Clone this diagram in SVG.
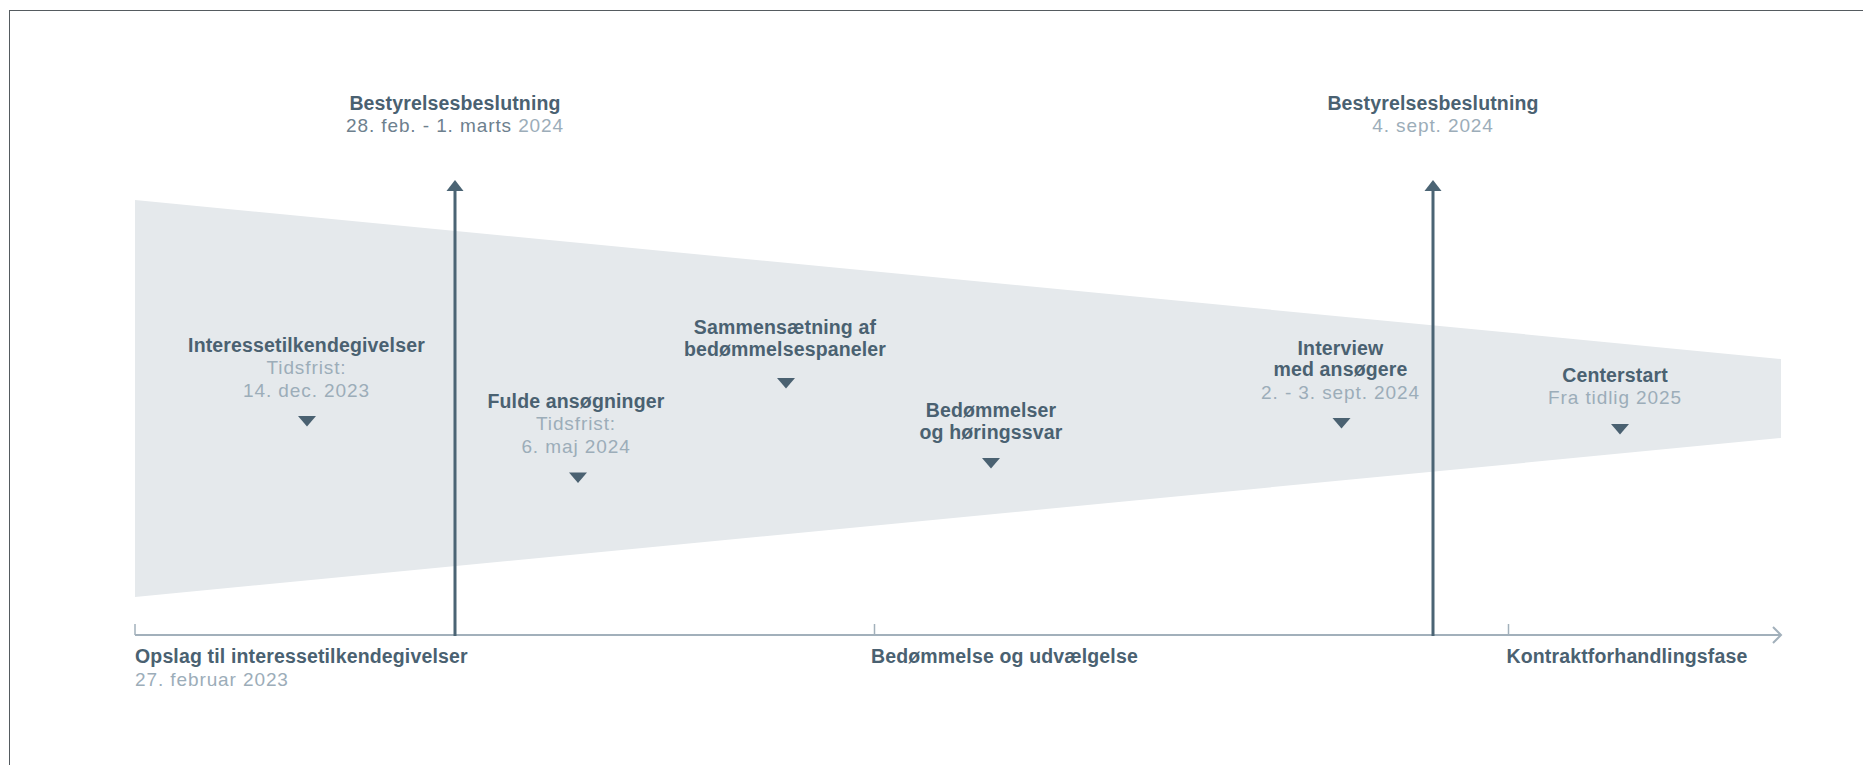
<svg xmlns="http://www.w3.org/2000/svg" width="1863" height="765" viewBox="0 0 1863 765">
<style>
  .b{font-family:"Liberation Sans",Arial,sans-serif;font-weight:bold;font-size:19.5px;letter-spacing:0.15px;fill:#4a6171;text-anchor:middle}
  .l{font-family:"Liberation Sans",Arial,sans-serif;font-size:19px;letter-spacing:0.9px;fill:#9cadb9;text-anchor:middle}
  .m{fill:#6d808e}
  .s{text-anchor:start}
  .tri{fill:#4a6171}
  .vl{stroke:#4b6474;stroke-width:3;fill:none}
  .ah{fill:#4b6474}
  .ax{stroke:#a2b0bb;stroke-width:2;fill:none}
  .tk{stroke:#a2b0bb;stroke-width:1.5;fill:none}
</style>
<rect width="1863" height="765" fill="#ffffff"/>
<rect x="9.5" y="10.5" width="1900" height="800" fill="none" stroke="#555b60" stroke-width="1"/>
<polygon id="funnel" points="135,200 1781,359 1781,438 135,597" fill="#e5e9ec"/>
<g id="connectors">
  <line class="ax" x1="135" y1="635" x2="1780" y2="635"/>
  <polyline class="ax" points="1773,627 1781,635 1773,643" stroke-width="1.5"/>
  <line class="tk" x1="135" y1="624" x2="135" y2="635"/>
  <line class="tk" x1="874.5" y1="624" x2="874.5" y2="635"/>
  <line class="tk" x1="1508.5" y1="624" x2="1508.5" y2="635"/>
  <line class="vl" x1="455" y1="189" x2="455" y2="636"/>
  <polygon class="ah" points="455,180 446.5,191 463.5,191"/>
  <line class="vl" x1="1433" y1="189" x2="1433" y2="636"/>
  <polygon class="ah" points="1433,180 1424.5,191 1441.5,191"/>
</g>
<g id="board1">
  <text class="b" x="455" y="110">Bestyrelsesbeslutning</text>
  <text class="l" x="455" y="132"><tspan class="m">28. feb. - 1. marts</tspan> 2024</text>
</g>
<g id="board2">
  <text class="b" x="1433" y="110">Bestyrelsesbeslutning</text>
  <text class="l" x="1433" y="132">4. sept. 2024</text>
</g>
<g id="interesse">
  <text class="b" x="306.5" y="352">Interessetilkendegivelser</text>
  <text class="l" x="306.5" y="374">Tidsfrist:</text>
  <text class="l" x="306.5" y="396.5">14. dec. 2023</text>
  <polygon class="tri" points="298,416 316,416 307,426.5"/>
</g>
<g id="fulde">
  <text class="b" x="576" y="408">Fulde ansøgninger</text>
  <text class="l" x="576" y="430">Tidsfrist:</text>
  <text class="l" x="576" y="453">6. maj 2024</text>
  <polygon class="tri" points="569,472.5 587,472.5 578,483"/>
</g>
<g id="sammensaetning">
  <text class="b" x="785" y="334">Sammensætning af</text>
  <text class="b" x="785" y="356">bedømmelsespaneler</text>
  <polygon class="tri" points="777,378 795,378 786,388.5"/>
</g>
<g id="bedommelser">
  <text class="b" x="991" y="417">Bedømmelser</text>
  <text class="b" x="991" y="439">og høringssvar</text>
  <polygon class="tri" points="982,458 1000,458 991,468.5"/>
</g>
<g id="interview">
  <text class="b" x="1340.5" y="355">Interview</text>
  <text class="b" x="1340.5" y="376">med ansøgere</text>
  <text class="l" x="1340.5" y="398.5">2. - 3. sept. 2024</text>
  <polygon class="tri" points="1332.5,418 1350.5,418 1341.5,428.5"/>
</g>
<g id="centerstart">
  <text class="b" x="1615" y="382">Centerstart</text>
  <text class="l" x="1615" y="403.5">Fra tidlig 2025</text>
  <polygon class="tri" points="1611,424 1629,424 1620,434.5"/>
</g>
<g id="opslag">
  <text class="b s" x="135" y="663">Opslag til interessetilkendegivelser</text>
  <text class="l s" x="135" y="686">27. februar 2023</text>
</g>
<g id="bedommelse-fase">
  <text class="b s" x="871" y="663">Bedømmelse og udvælgelse</text>
</g>
<g id="kontrakt-fase">
  <text class="b s" x="1506.5" y="663">Kontraktforhandlingsfase</text>
</g>
</svg>
